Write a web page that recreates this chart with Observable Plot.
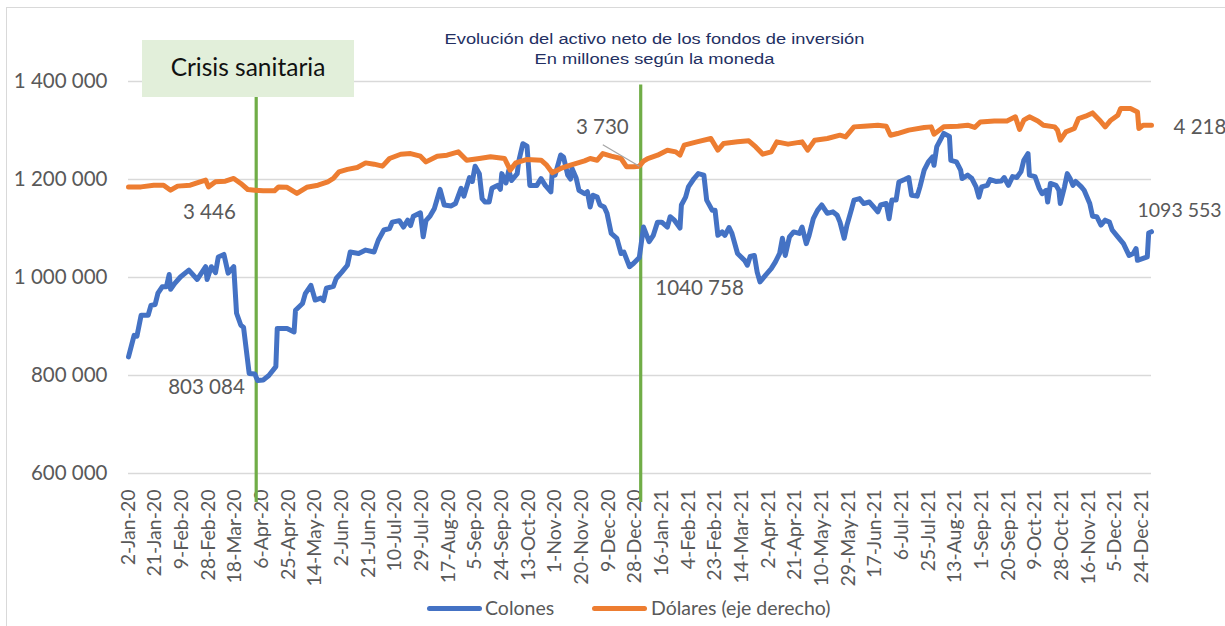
<!DOCTYPE html>
<html><head><meta charset="utf-8">
<script src="https://cdn.jsdelivr.net/npm/d3@7"></script>
<script src="https://cdn.jsdelivr.net/npm/@observablehq/plot@0.6"></script>
<style>
body{margin:0;background:#fff;}
#wrap{position:relative;width:1225px;height:626px;overflow:hidden;background:#fff;font-family:Lato,sans-serif;}
#frame{position:absolute;left:6px;top:7px;width:1400px;height:800px;border-left:1.5px solid #d9d9d9;border-top:1.5px solid #d9d9d9;}
#chart{position:absolute;left:0;top:0;}
#title{position:absolute;left:0;width:1309px;top:29px;text-align:center;font-family:"Liberation Sans",Arial,sans-serif;font-size:15.5px;color:#232f62;line-height:20px;transform:scaleX(1.18);transform-origin:654.5px 0;}
#crisis{position:absolute;left:142px;top:40px;width:212px;height:57px;background:#e2efda;text-align:center;line-height:53px;font-size:24.5px;color:#111;}
.leg{position:absolute;top:596px;font-size:19.5px;color:#595959;line-height:24px;}
.sw{position:absolute;height:5px;border-radius:3px;top:606px;width:55px;}
svg text{font-family:Lato,sans-serif;}
</style></head>
<body>
<div id="wrap">
<div id="frame"></div>
<div id="chart"></div>
<div id="crisis">Crisis sanitaria</div>
<div id="title">Evolución del activo neto de los fondos de inversión<br>En millones según la moneda</div>
<div class="sw" style="left:427px;background:#4472c4"></div><div class="leg" style="left:485px">Colones</div>
<div class="sw" style="left:592px;background:#ed7d31"></div><div class="leg" style="left:651px">Dólares (eje derecho)</div>
</div>
<script>
// ---- data (days since 2-Jan-2020) ----
const colonesDay = [0,4,6,9,14,16,19,21,24,27,29,30,33,37,43,49,55,56,59,62,64,68,71,75,77,80,82,86,90,92,96,100,105,106,113,118,119,124,126,130,133,137,139,141,146,148,152,156,158,164,169,175,178,182,186,188,193,196,199,201,203,208,210,212,215,218,222,225,230,233,237,239,243,245,247,250,252,254,257,259,263,265,266,269,271,273,277,278,281,284,286,291,294,297,301,302,304,308,310,313,315,316,319,321,325,327,329,331,334,336,339,341,344,348,351,353,357,360,364,367,371,374,377,380,384,386,389,393,394,397,399,403,406,410,412,416,418,420,423,425,428,430,434,439,441,443,446,448,450,454,458,461,464,466,468,471,474,478,480,483,485,488,491,494,498,502,505,507,510,512,515,517,521,524,528,531,534,536,540,542,544,547,549,553,556,558,562,564,567,570,573,574,576,581,585,586,590,593,594,598,601,604,606,608,612,614,618,622,624,627,630,633,636,638,641,642,646,649,651,654,655,657,661,663,664,667,669,671,673,675,679,681,685,687,690,693,696,699,701,705,709,713,716,718,719,723,726,727,729];
const colonesValue = [838000,882000,880000,923000,923000,943000,945000,968000,981000,981000,1006000,976000,988000,1001000,1015000,996000,1022000,996000,1022000,1010000,1042000,1047000,1009000,1022000,927000,903000,898000,804000,803084,790000,791000,800000,818000,896000,896000,889000,933000,947000,967000,984000,954000,958000,953000,978000,982000,998000,1011000,1025000,1052000,1049000,1056000,1052000,1076000,1097000,1100000,1113000,1116000,1103000,1117000,1106000,1125000,1132000,1083000,1116000,1126000,1141000,1180000,1148000,1146000,1151000,1182000,1166000,1204000,1196000,1227000,1212000,1161000,1154000,1154000,1182000,1188000,1180000,1212000,1193000,1219000,1198000,1212000,1236000,1273000,1268000,1188000,1188000,1202000,1188000,1175000,1216000,1209000,1250000,1246000,1209000,1201000,1223000,1203000,1178000,1171000,1175000,1144000,1168000,1164000,1148000,1144000,1131000,1090000,1080000,1049000,1052000,1022000,1029000,1040758,1103000,1073000,1086000,1113000,1113000,1103000,1124000,1117000,1101000,1148000,1164000,1185000,1202000,1212000,1209000,1158000,1137000,1137000,1086000,1093000,1086000,1102000,1090000,1049000,1035000,1025000,1043000,1045000,1011000,991000,1005000,1018000,1032000,1049000,1080000,1045000,1083000,1093000,1090000,1103000,1069000,1086000,1120000,1137000,1148000,1131000,1134000,1127000,1113000,1080000,1107000,1137000,1158000,1161000,1151000,1154000,1144000,1134000,1148000,1151000,1120000,1158000,1158000,1195000,1200000,1204000,1168000,1166000,1185000,1219000,1236000,1246000,1229000,1267000,1294000,1288000,1239000,1236000,1219000,1202000,1209000,1202000,1185000,1164000,1185000,1188000,1200000,1196000,1197000,1204000,1188000,1206000,1204000,1216000,1239000,1253000,1209000,1206000,1182000,1171000,1178000,1154000,1192000,1188000,1178000,1151000,1185000,1212000,1202000,1188000,1196000,1185000,1178000,1151000,1125000,1124000,1107000,1117000,1113000,1097000,1083000,1069000,1045000,1049000,1059000,1035000,1039000,1042000,1091000,1093553];
const dolaresDay = [0,9,18,25,30,35,44,51,55,57,62,69,75,80,85,90,96,104,107,113,120,127,135,142,146,150,156,163,169,175,181,186,194,201,208,212,220,227,235,241,250,258,268,272,276,284,294,298,302,308,315,325,329,334,338,344,351,355,360,364,367,370,377,384,390,393,396,405,415,420,424,434,442,447,452,458,462,470,480,484,489,498,507,511,517,524,534,540,543,548,556,567,572,574,581,591,598,603,607,617,626,632,635,638,642,648,652,660,662,664,668,674,677,682,687,692,696,700,705,707,714,719,720,723,729];
const dolaresValue = [3485,3485,3505,3505,3446,3494,3505,3545,3565,3485,3545,3553,3585,3526,3454,3446,3438,3438,3485,3480,3407,3480,3505,3545,3585,3664,3693,3716,3770,3755,3731,3822,3873,3881,3850,3782,3850,3862,3901,3802,3822,3842,3822,3684,3770,3811,3802,3743,3652,3704,3743,3794,3822,3802,3881,3850,3822,3723,3723,3730,3790,3822,3862,3921,3901,3862,3981,4020,4060,3921,4000,4020,4032,3960,3874,3901,4020,3993,4020,3921,4040,4060,4099,4079,4198,4206,4218,4206,4099,4119,4159,4191,4198,4111,4198,4206,4218,4191,4257,4269,4269,4317,4167,4277,4317,4269,4218,4198,4159,4040,4139,4179,4297,4325,4364,4277,4198,4277,4337,4416,4416,4376,4179,4218,4218];
const tickLabels = ["2-Jan-20","21-Jan-20","9-Feb-20","28-Feb-20","18-Mar-20","6-Apr-20","25-Apr-20","14-May-20","2-Jun-20","21-Jun-20","10-Jul-20","29-Jul-20","17-Aug-20","5-Sep-20","24-Sep-20","13-Oct-20","1-Nov-20","20-Nov-20","9-Dec-20","28-Dec-20","16-Jan-21","4-Feb-21","23-Feb-21","14-Mar-21","2-Apr-21","21-Apr-21","10-May-21","29-May-21","17-Jun-21","6-Jul-21","25-Jul-21","13-Aug-21","1-Sep-21","20-Sep-21","9-Oct-21","28-Oct-21","16-Nov-21","5-Dec-21","24-Dec-21"];
const leftTicks = [600000,800000,1000000,1200000,1400000];
const dollarAxisDomain = [80, 4737];   // hidden secondary axis (eje derecho)
const eventDates = ["2020-04-02","2021-01-01"];

// ---- helpers ----
const toDate = d => new Date(Date.UTC(2020,0,2+d));
const parseTick = d3.utcParse("%d-%b-%y");
const tickDates = tickLabels.map(parseTick);
const labelOf = new Map(tickDates.map((d,i)=>[+d,tickLabels[i]]));
const dollarToLeft = d3.scaleLinear().domain(dollarAxisDomain).range([leftTicks[0], leftTicks[leftTicks.length-1]]);
const fmt = d3.formatLocale({decimal:",",thousands:" ",grouping:[3],currency:["",""]}).format(",");
const colones = colonesDay.map((d,i)=>({date:toDate(d), value:colonesValue[i]}));
const dolares = dolaresDay.map((d,i)=>({date:toDate(d), value:dolaresValue[i], left:dollarToLeft(dolaresValue[i])}));
const events = eventDates.map(s=>new Date(s));
const gray = "#595959";
const lab = (day, v, text, anchor, dx, dy) => Plot.text([{date:toDate(day), v, text}], {x:"date", y:"v", text:"text", textAnchor:anchor, dx, dy, fontSize:20.5, fill:gray});

const chart = Plot.plot({
  width:1225, height:626,
  marginTop:81, marginBottom:153, marginLeft:128, marginRight:74,
  style:{fontFamily:"Lato, sans-serif", color:gray, background:"transparent", overflow:"visible"},
  x:{type:"utc", domain:[toDate(0), toDate(729)]},
  y:{domain:[leftTicks[0], leftTicks[leftTicks.length-1]]},
  marks:[
    Plot.ruleY(leftTicks, {stroke:"#d9d9d9", strokeWidth:1.4}),
    Plot.axisY(leftTicks, {tickSize:0, tickPadding:21, tickFormat:fmt, fontSize:20.5}),
    Plot.axisX(tickDates, {tickSize:0, tickPadding:16, tickRotate:-90, fontSize:19.5, tickFormat:d=>labelOf.get(+d), style:"letter-spacing:0.5px"}),
    Plot.ruleX(events.slice(0,1), {x:d=>d, y1:1368000, y2:541000, stroke:"#70ad47", strokeWidth:3.2}),
    Plot.ruleX(events.slice(1), {x:d=>d, y1:1393000, y2:541000, stroke:"#70ad47", strokeWidth:3.2}),
    Plot.line(colones, {x:"date", y:"value", stroke:"#4472c4", strokeWidth:5, strokeLinejoin:"round", strokeLinecap:"round"}),
    Plot.line(dolares, {x:"date", y:"left", stroke:"#ed7d31", strokeWidth:5, strokeLinejoin:"round", strokeLinecap:"round"}),
    Plot.link([{x1:toDate(338), y1:1271000, x2:toDate(364), y2:dollarToLeft(3730)}], {x1:"x1", y1:"y1", x2:"x2", y2:"y2", stroke:"#a6a6a6", strokeWidth:1.3}),
    lab(90, 803084, "803 084", "end", -10, 13),
    lab(90, dollarToLeft(3446), "3 446", "end", -19, 22),
    lab(364, dollarToLeft(3730), "3 730", "middle", -37, -39),
    lab(364, 1040758, "1040 758", "start", 16, 31),
    lab(729, dollarToLeft(4218), "4 218", "start", 22, 2),
    Plot.text([{date:toDate(729), v:1093553, text:"1093 553"}], {x:"date", y:"v", text:"text", textAnchor:"start", dx:-14, dy:-21, fontSize:19.5, fill:gray})
  ]
});
document.getElementById("chart").appendChild(chart);
</script>
</body></html>
